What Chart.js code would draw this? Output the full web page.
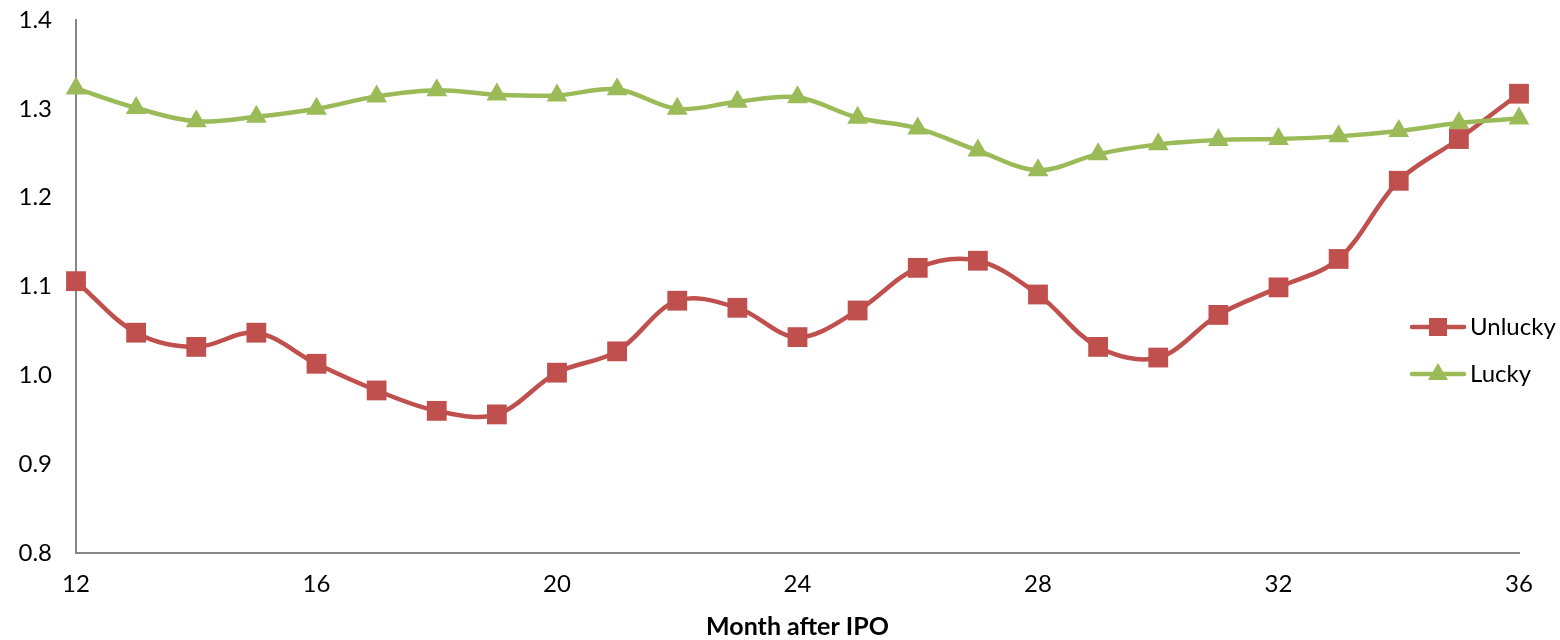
<!DOCTYPE html>
<html>
<head>
<meta charset="utf-8">
<script src="https://cdn.jsdelivr.net/npm/chart.js@4/dist/chart.umd.min.js"></script>
<style>
  html, body { margin: 0; padding: 0; background: #fff; }
  #wrap { width: 1560px; height: 640px; }
</style>
</head>
<body>
<div id="wrap"><canvas id="chart" width="1560" height="640"></canvas></div>
<script>
// --- Daten ---
const months = [12,13,14,15,16,17,18,19,20,21,22,23,24,25,26,27,28,29,30,31,32,33,34,35,36];
const unlucky = [1.106,1.048,1.032,1.048,1.013,0.983,0.960,0.956,1.003,1.027,1.084,1.076,1.043,1.073,1.121,1.129,1.091,1.032,1.020,1.068,1.099,1.131,1.219,1.266,1.317];
const lucky = [1.323,1.301,1.286,1.291,1.300,1.314,1.321,1.316,1.315,1.322,1.300,1.308,1.313,1.290,1.278,1.253,1.231,1.249,1.260,1.265,1.266,1.269,1.275,1.284,1.289];
const yTicks = [0.8,0.9,1.0,1.1,1.2,1.3,1.4];
const xTicks = [12,16,20,24,28,32,36];

const RED = "#C0504D";
const GREEN = "#9BBB59";
const AXIS = "#868686";
const FONT = "Lato, 'Open Sans', sans-serif";

// Legende rechts im Plot, von Hand gezeichnet
const sideLegend = {
    id: "sideLegend",
    afterDraw(chart){
        const ctx = chart.ctx;
        const x0 = 1410, rowY = [327, 374];
        chart.data.datasets.forEach((ds, i) => {
            const y = rowY[i];
            ctx.save();
            ctx.strokeStyle = ds.borderColor;
            ctx.lineWidth = 4.5;
            ctx.lineCap = "round";
            ctx.beginPath(); ctx.moveTo(x0 + 2, y); ctx.lineTo(x0 + 54, y); ctx.stroke();
            ctx.fillStyle = ds.backgroundColor;
            const cx = x0 + 28;
            if(ds.pointStyle === "rect"){
                ctx.fillRect(cx - 9, y - 9, 18, 18);
            } else {
                ctx.beginPath();
                ctx.moveTo(cx, y - 11); ctx.lineTo(cx + 10, y + 6); ctx.lineTo(cx - 10, y + 6);
                ctx.closePath(); ctx.fill();
            }
            ctx.fillStyle = "#000";
            ctx.font = "24px " + FONT;
            ctx.textBaseline = "middle";
            ctx.fillText(ds.label, x0 + 60, y);
            ctx.restore();
        });
    }
};

new Chart(document.getElementById("chart"), {
    type: "line",
    data: {
        datasets: [
            {
                label: "Unlucky",
                data: months.map((m, i) => ({x: m, y: unlucky[i]})),
                borderColor: RED, backgroundColor: RED,
                borderWidth: 4.5, tension: 0.35,
                pointStyle: "rect", pointRadius: 14, pointBorderWidth: 0,
                clip: false, order: 2
            },
            {
                label: "Lucky",
                data: months.map((m, i) => ({x: m, y: lucky[i]})),
                borderColor: GREEN, backgroundColor: GREEN,
                borderWidth: 4.5, tension: 0.35,
                pointStyle: "triangle", pointRadius: 12, pointBorderWidth: 0,
                clip: false, order: 1
            }
        ]
    },
    options: {
        responsive: false,
        animation: false,
        layout: { padding: { top: 20, right: 41, left: 0, bottom: 0 } },
        plugins: { legend: { display: false }, tooltip: { enabled: false } },
        scales: {
            x: {
                type: "linear", min: 12, max: 36,
                afterFit: s => { s.height = 87; },
                afterBuildTicks: s => { s.ticks = xTicks.map(v => ({value: v})); },
                grid: { display: false, drawOnChartArea: false, drawTicks: true, tickLength: 8, tickColor: AXIS, tickWidth: 1.5 },
                border: { color: AXIS, width: 2 },
                ticks: { color: "#000", font: { family: FONT, size: 24 }, padding: 9, maxRotation: 0 },
                title: { display: true, text: "Month after IPO", color: "#000", font: { family: FONT, size: 25, weight: "bold" }, padding: { top: 0, bottom: -2 } }
            },
            y: {
                min: 0.8, max: 1.4,
                afterFit: s => { s.width = 76; s.paddingTop = 10; s.paddingBottom = 10; },
                afterBuildTicks: s => { s.ticks = yTicks.map(v => ({value: v})); },
                grid: { display: false, drawOnChartArea: false, drawTicks: true, tickLength: 8, tickColor: AXIS, tickWidth: 1.5 },
                border: { color: AXIS, width: 2 },
                ticks: { color: "#000", font: { family: FONT, size: 24 }, padding: 16, callback: v => v.toFixed(1) }
            }
        }
    },
    plugins: [sideLegend]
});
</script>
</body>
</html>
